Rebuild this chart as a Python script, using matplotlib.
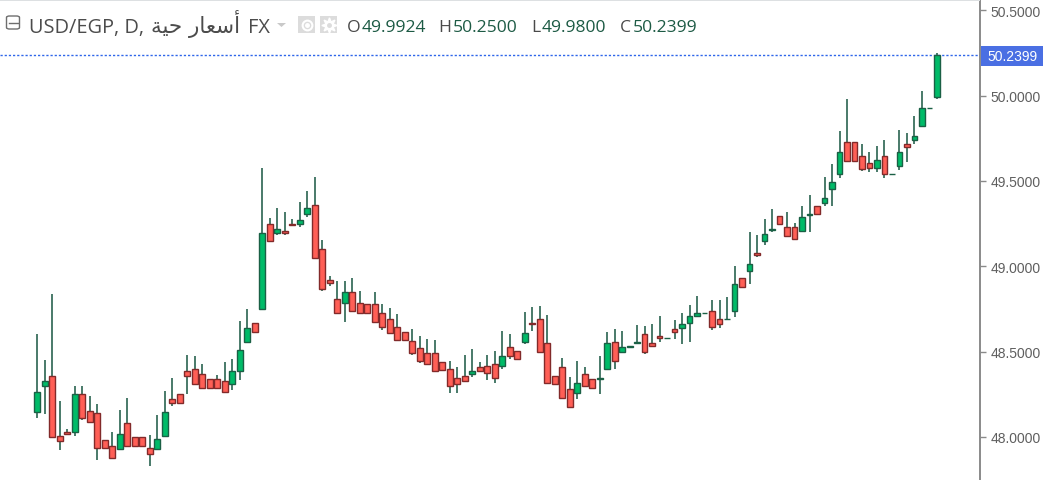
import matplotlib
matplotlib.use("Agg")
import matplotlib.pyplot as plt
from matplotlib.patches import Rectangle, FancyBboxPatch, Polygon

opens = [48.148,48.300,48.359,48.007,48.031,48.031,48.249,48.154,48.140,47.984,47.949,47.927,48.081,48.000,48.000,47.935,47.927,48.007,48.220,48.249,
         48.388,48.396,48.367,48.337,48.337,48.330,48.308,48.388,48.558,48.667,48.748,49.246,49.195,49.209,49.250,49.246,49.305,49.357,49.101,48.918,
         48.808,48.785,48.851,48.785,48.777,48.777,48.726,48.689,48.646,48.617,48.564,48.521,48.492,48.492,48.441,48.396,48.345,48.359,48.367,48.412,
         48.418,48.425,48.418,48.529,48.506,48.556,48.670,48.689,48.550,48.359,48.412,48.279,48.257,48.367,48.337,48.337,48.396,48.558,48.500,48.525,
         48.549,48.601,48.550,48.590,48.578,48.630,48.636,48.666,48.710,48.724,48.740,48.689,48.689,48.740,48.931,48.974,49.080,49.150,49.215,49.297,
         49.232,49.232,49.209,49.303,49.355,49.371,49.451,49.539,49.730,49.730,49.648,49.605,49.576,49.648,49.539,49.589,49.715,49.738,49.822,49.926,49.9924]
highs = [48.603,48.449,48.840,48.208,48.046,48.300,48.300,48.242,48.193,47.984,48.031,48.156,48.230,48.000,48.000,48.011,48.128,48.267,48.347,48.249,
         48.480,48.472,48.429,48.337,48.361,48.437,48.457,48.677,48.752,48.667,49.574,49.285,49.344,49.316,49.277,49.375,49.439,49.522,49.152,48.941,
         48.912,48.912,48.933,48.853,48.777,48.847,48.781,48.758,48.722,48.617,48.632,48.589,48.574,48.566,48.441,48.443,48.408,48.480,48.517,48.437,
         48.480,48.502,48.619,48.605,48.506,48.730,48.760,48.765,48.713,48.359,48.464,48.349,48.443,48.408,48.337,48.472,48.613,48.634,48.619,48.531,
         48.654,48.648,48.664,48.707,48.582,48.683,48.728,48.771,48.824,48.728,48.800,48.800,48.818,49.000,48.931,49.199,49.183,49.279,49.336,49.297,
         49.320,49.252,49.351,49.418,49.355,49.521,49.601,49.791,49.980,49.730,49.718,49.668,49.703,49.740,49.543,49.799,49.783,49.879,50.025,49.929,50.2500]
lows = [48.109,48.136,48.001,47.925,48.015,48.007,48.101,48.089,47.867,47.935,47.874,47.927,47.949,47.949,47.949,47.829,47.927,48.007,48.179,48.197,
        48.253,48.308,48.287,48.287,48.287,48.265,48.277,48.335,48.558,48.617,48.748,49.150,49.185,49.185,49.234,49.228,49.287,49.049,48.853,48.885,
        48.724,48.672,48.740,48.726,48.726,48.675,48.629,48.609,48.566,48.566,48.482,48.431,48.425,48.388,48.390,48.255,48.255,48.320,48.349,48.388,
        48.336,48.318,48.400,48.455,48.455,48.547,48.619,48.500,48.316,48.308,48.228,48.177,48.222,48.300,48.287,48.253,48.396,48.400,48.500,48.525,
        48.549,48.488,48.535,48.554,48.578,48.574,48.544,48.554,48.710,48.724,48.628,48.636,48.689,48.701,48.879,48.898,49.052,49.127,49.199,49.246,
        49.179,49.158,49.199,49.199,49.304,49.355,49.351,49.515,49.619,49.619,49.556,49.550,49.550,49.515,49.539,49.566,49.609,49.718,49.814,49.926,49.9800]
closes = [48.265,48.330,48.001,47.978,48.019,48.249,48.109,48.089,47.933,47.935,47.874,48.015,47.949,47.949,47.949,47.898,47.986,48.148,48.197,48.197,
          48.359,48.308,48.287,48.287,48.287,48.265,48.388,48.507,48.638,48.617,49.195,49.150,49.217,49.195,49.244,49.269,49.342,49.049,48.865,48.900,
          48.724,48.851,48.740,48.726,48.726,48.675,48.646,48.609,48.566,48.566,48.492,48.447,48.425,48.388,48.390,48.300,48.308,48.330,48.388,48.388,
          48.375,48.343,48.476,48.476,48.455,48.609,48.660,48.500,48.316,48.308,48.228,48.177,48.316,48.300,48.287,48.345,48.550,48.447,48.529,48.531,
          48.554,48.500,48.535,48.578,48.582,48.615,48.662,48.710,48.726,48.728,48.644,48.660,48.693,48.894,48.879,49.011,49.068,49.187,49.220,49.246,
          49.179,49.158,49.291,49.308,49.304,49.400,49.496,49.672,49.619,49.619,49.568,49.574,49.621,49.539,49.543,49.672,49.699,49.761,49.928,49.929,50.2399]
ytick_vals = [48.0, 48.5, 49.0, 49.5, 50.0, 50.5]
last_price = 50.2399
header_o, header_h, header_l, header_c = "49.9924", "50.2500", "49.9800", "50.2399"

W, H = 1043, 481
fig = plt.figure(figsize=(W/100, H/100), dpi=100, facecolor="white")
ax = fig.add_axes([0, 0, 980/W, 1])
ax.set_xlim(-4.975, 125.74)
ax.set_ylim(47.747, 50.567)

UP, DOWN = "#00bb68", "#ff5f56"
UP_E, DOWN_E = "#1a6045", "#822a2a"
WICK = "#2a6350"
xs = list(range(len(opens)))
ax.vlines(xs, lows, highs, colors=WICK, linewidth=1.2, zorder=2)
for x, o, c in zip(xs, opens, closes):
    up = c >= o
    ax.bar(x, abs(c - o), bottom=min(o, c), width=0.78, color=UP if up else DOWN,
           edgecolor=UP_E if up else DOWN_E, linewidth=1.0, zorder=3)

ax.axhline(last_price, color="#2f66ea", lw=1.0, ls=(0, (1.6, 1.4)), zorder=1)

for s in ("top", "left", "bottom"):
    ax.spines[s].set_visible(False)
ax.spines["right"].set_color("#8a8a8a")
ax.spines["right"].set_linewidth(1.4)
ax.set_xticks([])
ax.yaxis.tick_right()
ax.set_yticks(ytick_vals)
ax.set_yticklabels([f"{v:.4f}" for v in ytick_vals], fontname="Liberation Sans", fontsize=10, color="#5f5f5f")
ax.tick_params(axis="y", length=4, width=1, color="#8a8a8a", pad=3.5)

# price tag
fig.patches.append(Rectangle((981/W, 1-67/H), 62/W, 20/H, transform=fig.transFigure, fc="#4a6fe3", ec="none"))
fig.text(1037.5/W, 1-57/H, f"{last_price:.4f}", color="white", fontsize=10, fontname="Liberation Sans", ha="right", va="center")

# top rule
fig.patches.append(Rectangle((0, 1-1.5/H), 980/W, 1.5/H, transform=fig.transFigure, fc="#dde0e2", ec="none"))

# header
def px(x, y):
    return x/W, 1-y/H
G = "#4c4c4c"
fig.patches.append(FancyBboxPatch(px(6.5, 30), 13/W, 13/H, boxstyle="round,pad=0,rounding_size=0.003",
                                  transform=fig.transFigure, fc="white", ec="#6e6e6e", lw=1))
fig.add_artist(plt.Line2D([9/W, 17.5/W], [1-23.5/H]*2, color="#6e6e6e", lw=1, transform=fig.transFigure))
fig.text(*px(29, 33), "USD/EGP, D,", fontsize=14.4, family="Open Sans", color=G, va="baseline")
fig.text(*px(151, 33), "\uFE94\uFEF4\uFEA3 \uFEAD\uFE8E\uFECC\uFEB3\uFE83", fontsize=15.5, family="DejaVu Sans", color=G, va="baseline")
fig.text(*px(248, 33), "FX", fontsize=14.4, family="Open Sans", color=G, va="baseline")
fig.patches.append(Polygon([px(277, 24), px(286, 24), px(281.5, 28)], closed=True, transform=fig.transFigure, fc="#c9c9c9", ec="none"))
for bx in (298, 320):
    fig.patches.append(Rectangle(px(bx, 34), 17/W, 17/H, transform=fig.transFigure, fc="#dcdcdc", ec="none"))
fig.add_artist(plt.Line2D([306.5/W], [1-25.5/H], marker="o", ms=7, mfc="none", mec="white", mew=1.5, transform=fig.transFigure))
fig.add_artist(plt.Line2D([306.5/W], [1-25.5/H], marker="o", ms=2.5, mfc="white", mec="white", transform=fig.transFigure))
fig.add_artist(plt.Line2D([328.5/W], [1-25.5/H], marker=(8, 1, 0), ms=11, mfc="white", mec="white", transform=fig.transFigure))
fig.add_artist(plt.Line2D([328.5/W], [1-25.5/H], marker="o", ms=2.5, mfc="#dcdcdc", mec="#dcdcdc", transform=fig.transFigure))

OC = "#4a4a4a"
VC = "#1c5a44"
for lx, vx, lab, val in [(347, 362, "O", header_o), (438, 453, "H", header_h), (531, 542, "L", header_l), (620, 633, "C", header_c)]:
    fig.text(*px(lx, 32), lab, fontsize=12.6, family="Open Sans", color=OC, va="baseline")
    fig.text(*px(vx, 32), val, fontsize=12.6, family="Open Sans", color=VC, va="baseline")

fig.savefig("out.png", dpi=100)
